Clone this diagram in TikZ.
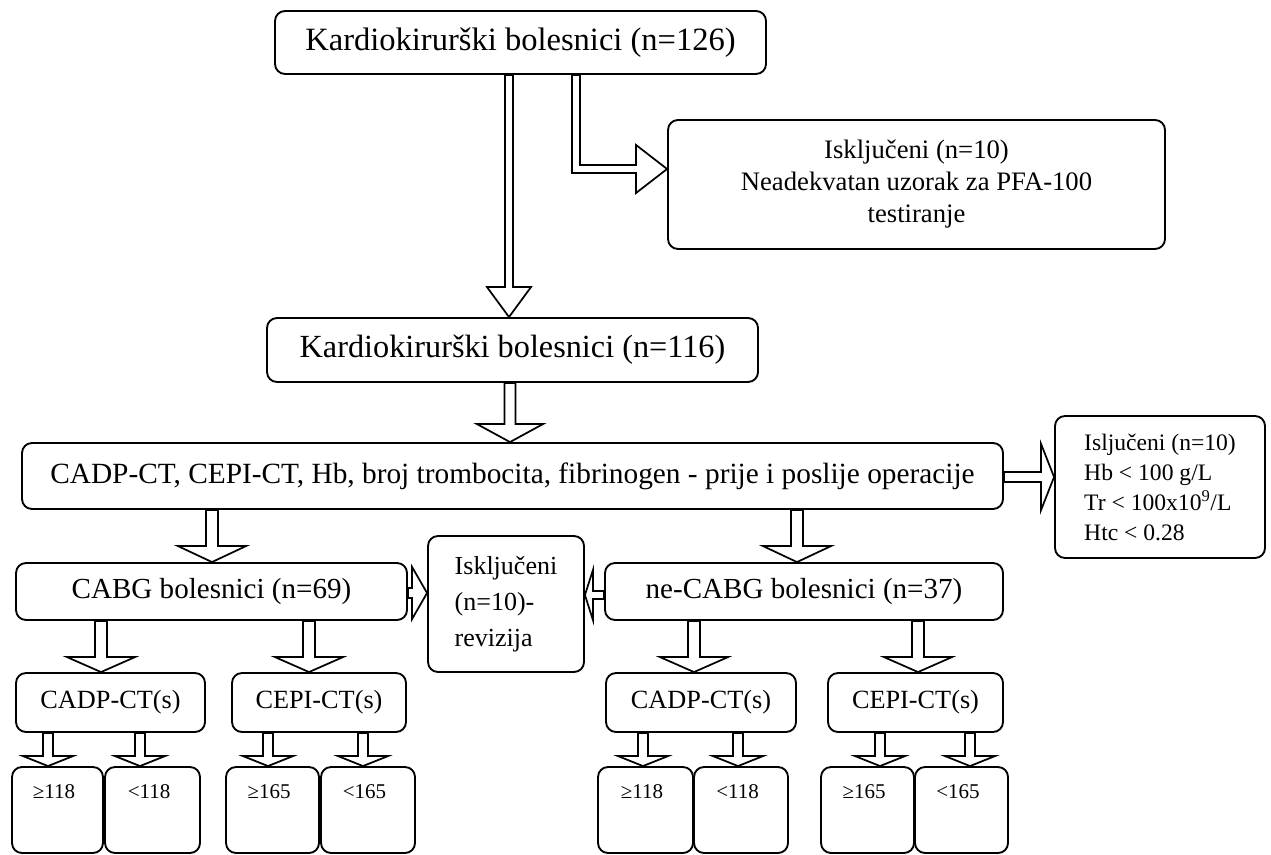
\documentclass[tikz,border=0pt]{standalone}
\usepackage{fontspec}
\setmainfont{Liberation Serif}
\usetikzlibrary{calc}
\newcommand\fsz[2]{\fontsize{#1}{#2}\selectfont}
\tikzset{
  box/.style={draw, line width=1.4pt, rounded corners=7.5pt, inner sep=0pt, align=center},
  blk/.style={draw, line width=1.3pt, fill=white, line join=miter},
  lowlbl/.style={anchor=center, yshift=-19.5pt, xshift=-2.6pt, font=\fsz{15.75}{18}}
}
% box: name, cx, cy, w, h, font, text
\newcommand\bx[7]{\node[box, minimum width={#4*0.75pt}, minimum height={#5*0.75pt}, font={#6}] (#1) at (#2,#3) {#7};}
% down arrow: src, dx(px), tgt, shaft half, head half, head len (px)
\newcommand\blkdown[6]{%
  \draw[blk] let \p1=($(#1.south)+(#2,0)$), \p2=(#3.north) in
  ({\x1-#4*0.75pt},\y1) -- ({\x1-#4*0.75pt},{\y2+#6*0.75pt}) -- ({\x1-#5*0.75pt},{\y2+#6*0.75pt}) -- (\x1,\y2)
  -- ({\x1+#5*0.75pt},{\y2+#6*0.75pt}) -- ({\x1+#4*0.75pt},{\y2+#6*0.75pt}) -- ({\x1+#4*0.75pt},\y1) -- cycle;}
% right arrow: src, dy(px), tgt, shaft half, head half, head len
\newcommand\blkright[6]{%
  \draw[blk] let \p1=($(#1.east)+(0,#2)$), \p2=(#3.west) in
  (\x1,{\y1+#4*0.75pt}) -- ({\x2-#6*0.75pt},{\y1+#4*0.75pt}) -- ({\x2-#6*0.75pt},{\y1+#5*0.75pt}) -- (\x2,\y1)
  -- ({\x2-#6*0.75pt},{\y1-#5*0.75pt}) -- ({\x2-#6*0.75pt},{\y1-#4*0.75pt}) -- (\x1,{\y1-#4*0.75pt}) -- cycle;}
% left arrow: src, dy(px), tgt, shaft half, head half, head len
\newcommand\blkleft[6]{%
  \draw[blk] let \p1=($(#1.west)+(0,#2)$), \p2=(#3.east) in
  (\x1,{\y1+#4*0.75pt}) -- ({\x2+#6*0.75pt},{\y1+#4*0.75pt}) -- ({\x2+#6*0.75pt},{\y1+#5*0.75pt}) -- (\x2,\y1)
  -- ({\x2+#6*0.75pt},{\y1-#5*0.75pt}) -- ({\x2+#6*0.75pt},{\y1-#4*0.75pt}) -- (\x1,{\y1-#4*0.75pt}) -- cycle;}
\begin{document}
\begin{tikzpicture}[x=0.75pt, y=-0.75pt]
\useasboundingbox (0,0) rectangle (1271,855);
% boxes
\bx{top}{520.5}{42.5}{491}{63}{\fsz{24.4}{28}}{Kardiokirurški bolesnici (n=126)}
\bx{exa}{916.5}{184.5}{497}{129}{\fsz{20}{24}}{Isključeni (n=10)\\Neadekvatan uzorak za PFA-100\\testiranje}
\bx{nmid}{512.5}{350}{491}{64}{\fsz{24.2}{28}}{Kardiokirurški bolesnici (n=116)}
\bx{meas}{512.5}{476}{981}{66}{\fsz{22}{26}}{CADP-CT, CEPI-CT, Hb, broj trombocita, fibrinogen - prije i poslije operacije}
\node[box, align=left, minimum width={210*0.75pt}, minimum height={142*0.75pt}, font={\fsz{17.7}{22.5}}] (exb) at (1160,487)
  {Isljučeni (n=10)\\Hb < 100 g/L\\Tr < 100x10\textsuperscript{9}/L\\Htc < 0.28};
\bx{cabg}{211.5}{591.5}{391}{57}{\fsz{21.8}{25}}{CABG bolesnici (n=69)}
\node[box, align=left, minimum width={156*0.75pt}, minimum height={136*0.75pt}, font={\fsz{19.5}{27}}] (rev) at (506,604)
  {Isključeni\\(n=10)-\\revizija};
\bx{necabg}{804}{591.5}{398}{57}{\fsz{21.8}{25}}{ne-CABG bolesnici (n=37)}
\bx{cadpA}{110.5}{702.5}{189}{59}{\fsz{19.7}{23}}{CADP-CT(s)}
\bx{cepiA}{319}{702.5}{174}{59}{\fsz{19.7}{23}}{CEPI-CT(s)}
\bx{cadpB}{701}{702.5}{190}{59}{\fsz{19.7}{23}}{CADP-CT(s)}
\bx{cepiB}{915.5}{702.5}{175}{59}{\fsz{19.7}{23}}{CEPI-CT(s)}
\node[box, minimum width={91*0.75pt}, minimum height={86*0.75pt}, label={[lowlbl]north:{≥118}}] (ra) at (57.5,810) {};
\node[box, minimum width={95*0.75pt}, minimum height={86*0.75pt}, label={[lowlbl]north:{<118}}] (rb) at (152.5,810) {};
\node[box, minimum width={93*0.75pt}, minimum height={86*0.75pt}, label={[lowlbl]north:{≥165}}] (rc) at (272.5,810) {};
\node[box, minimum width={94*0.75pt}, minimum height={86*0.75pt}, label={[lowlbl]north:{<165}}] (rd) at (368,810) {};
\node[box, minimum width={95*0.75pt}, minimum height={86*0.75pt}, label={[lowlbl]north:{≥118}}] (re) at (645.5,810) {};
\node[box, minimum width={94*0.75pt}, minimum height={86*0.75pt}, label={[lowlbl]north:{<118}}] (rf) at (741,810) {};
\node[box, minimum width={93*0.75pt}, minimum height={86*0.75pt}, label={[lowlbl]north:{≥165}}] (rg) at (867.5,810) {};
\node[box, minimum width={93*0.75pt}, minimum height={86*0.75pt}, label={[lowlbl]north:{<165}}] (rh) at (961.5,810) {};
% arrows
\blkdown{top}{-11.5}{nmid}{4}{22}{30}
\draw[blk] let \p1=($(top.south)+(55.5,0)$), \p2=($(exa.west)+(0,-15.5)$) in
  ({\x1-3pt},\y1) -- ({\x1-3pt},{\y2-3pt}) -- ({\x2-23.25pt},{\y2-3pt}) -- ({\x2-23.25pt},{\y2-18pt}) -- (\x2,\y2)
  -- ({\x2-23.25pt},{\y2+18pt}) -- ({\x2-23.25pt},{\y2+3pt}) -- ({\x1+3pt},{\y2+3pt}) -- ({\x1+3pt},\y1) -- cycle;
\blkdown{nmid}{-2.5}{meas}{5.5}{33}{18}
\blkright{meas}{1}{exb}{5}{33}{13}
\blkdown{meas}{-300.5}{cabg}{6}{34}{16}
\blkdown{meas}{284.5}{necabg}{6}{34}{16}
\blkright{cabg}{1.5}{rev}{5}{26}{15}
\blkleft{necabg}{3.5}{rev}{4}{25}{8}
\blkdown{cabg}{-110.5}{cadpA}{6}{34}{15}
\blkdown{cabg}{97.5}{cepiA}{6}{34}{15}
\blkdown{necabg}{-110}{cadpB}{6}{34}{15}
\blkdown{necabg}{114}{cepiB}{6}{34}{15}
\blkdown{cadpA}{-62.5}{ra}{5}{25}{10}
\blkdown{cadpA}{29.5}{rb}{5}{25}{10}
\blkdown{cepiA}{-51}{rc}{5}{25}{10}
\blkdown{cepiA}{44}{rd}{5}{25}{10}
\blkdown{cadpB}{-58}{re}{5}{25}{10}
\blkdown{cadpB}{37}{rf}{5}{25}{10}
\blkdown{cepiB}{-35.5}{rg}{5}{25}{10}
\blkdown{cepiB}{54.5}{rh}{5}{25}{10}
\end{tikzpicture}
\end{document}
